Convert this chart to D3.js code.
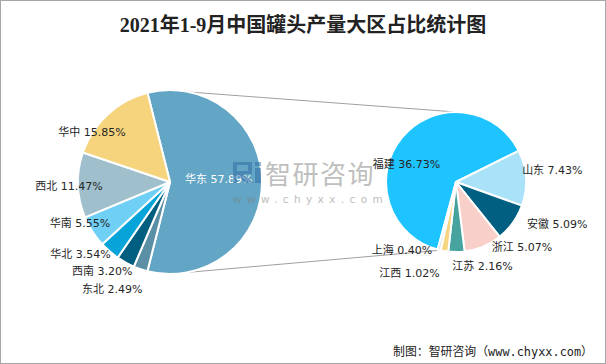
<!DOCTYPE html>
<html><head><meta charset="utf-8">
<script src="https://cdn.jsdelivr.net/npm/d3@7"></script>
<style>
html,body{margin:0;padding:0;background:#fff;}
svg{display:block;}
</style></head>
<body>
<svg id="chart" width="606" height="364"></svg>
<script>
// ---- data ----
const title = "2021年1-9月中国罐头产量大区占比统计图";
const source = "制图：智研咨询（www.chyxx.com）";
const regions = ["华东","东北","西南","华北","华南","西北","华中"];
const regionValues = [57.89, 2.49, 3.20, 3.54, 5.55, 11.47, 15.85];
const provinces = ["福建","山东","安徽","浙江","江苏","江西","上海"];
const provinceValues = [36.73, 7.43, 5.09, 5.07, 2.16, 1.02, 0.40];

// ---- styles / layout ----
const regionColors = ["#62a5c4","#5b8fa6","#005f80","#06a4d9","#6fcff5","#9fbfcc","#f6d47d"];
const provinceColors = ["#1ec4ff","#a9e2f9","#015f82","#f9d0c9","#46a39d","#f5d57f","#d2dde3"];
const leftPie = {cx:170, cy:182, r:92, start:-14.2};
const rightPie = {cx:456, cy:182, r:70, start:-164.8};
// label placement: [radius factor, dx, dy]
const leftLabelPos = [[0.53,0,-3],[1.25,-21,-2],[1.25,-12,-12],[1.25,-14,-15],[1.25,7,-21],[1.25,14,0],[1.25,0,34]];
const rightLabelPos = [[0.75,-9,15],[1.25,9,-7],[1.25,30,-9],[1.25,32,-16],[1.25,26,-3.5],[1.25,-32,5],[1.25,-33,-17]];

const svg = d3.select("#chart");
const W = 606, H = 364;
svg.append("rect").attr("x",0.5).attr("y",0.5).attr("width",W-1).attr("height",H-1)
  .attr("fill","#fff").attr("stroke","#a6a6a6").attr("stroke-width",1);

svg.append("text").attr("x",W/2).attr("y",32).attr("text-anchor","middle")
  .attr("font-family","'Liberation Serif','Noto Sans CJK SC',serif")
  .attr("font-size",20).attr("font-weight","bold").attr("fill","#222")
  .text(title);

const rad = d => d*Math.PI/180;

function drawPie(values, colors, cfg) {
  const pie = d3.pie().sort(null).value(d=>d)
    .startAngle(rad(cfg.start)).endAngle(rad(cfg.start)+2*Math.PI);
  const arcs = pie(values);
  const arc = d3.arc().innerRadius(0).outerRadius(cfg.r);
  const g = svg.append("g").attr("transform",`translate(${cfg.cx},${cfg.cy})`);
  g.selectAll("path").data(arcs).join("path")
    .attr("d",arc).attr("fill",(d,i)=>colors[i])
    .attr("stroke","#fff").attr("stroke-width",2).attr("stroke-linejoin","round");
  return {g, arcs};
}

function drawLabels(p, names, values, cfg, labelPos, colors) {
  const pos = (d,i) => {
    const lp = labelPos[i], R = cfg.r*lp[0];
    const c = d3.arc().innerRadius(R).outerRadius(R).centroid(d);
    return [c[0]+lp[1], c[1]+lp[2]];
  };
  p.g.selectAll("text.lbl").data(p.arcs).join("text").attr("class","lbl")
    .attr("x",(d,i)=>pos(d,i)[0])
    .attr("y",(d,i)=>pos(d,i)[1])
    .attr("dy","0.36em")
    .attr("text-anchor","middle")
    .attr("font-family","Tahoma,'DejaVu Sans','Noto Sans CJK SC',sans-serif")
    .attr("font-size",11)
    .attr("fill",(d,i)=>colors[i])
    .text((d,i)=>`${names[i]} ${values[i].toFixed(2)}%`);
}

// connector lines
const conn = svg.append("g");
const pt = (cfg, deg, r) => [cfg.cx + r*Math.sin(rad(deg)), cfg.cy - r*Math.cos(rad(deg))];
const lp = leftPie, rp = rightPie;
[[pt(lp,12,lp.r), pt(rp,0,rp.r)], [pt(lp,169.5,lp.r), pt(rp,193,rp.r)]].forEach(([a,b])=>{
  conn.append("line").attr("x1",a[0]).attr("y1",a[1]).attr("x2",b[0]).attr("y2",b[1])
    .attr("stroke","#a0a0a0").attr("stroke-width",1);
});

const L = drawPie(regionValues, regionColors, leftPie);
const R = drawPie(provinceValues, provinceColors, rightPie);

// watermark (on top, semi-transparent)
const wm = svg.append("g").attr("opacity",0.5);
wm.append("path").attr("d","M233,162 h19 v12 h-9 l11,9 h-8 l-9,-7.5 v7.5 h-4 z M237,165 v6 h11 v-6 z M255,162 h6 v4 h-6 z M255,168 h6 v15 h-6 z")
  .attr("fill-rule","evenodd").attr("fill","#2f6aa5");
wm.append("text").attr("x",265).attr("y",184).attr("font-family","'Noto Sans CJK SC',sans-serif")
  .attr("font-size",26).attr("fill","#808080").attr("letter-spacing",1.5).text("智研咨询");
wm.append("text").attr("x",233).attr("y",203).attr("font-family","'DejaVu Sans',sans-serif")
  .attr("font-size",10.5).attr("fill","#808080").attr("letter-spacing",5.4).text("www.chyxx.com");

drawLabels(L, regions, regionValues, leftPie, leftLabelPos, regions.map((d,i)=>i===0?"#ffffff":"#262626"));
drawLabels(R, provinces, provinceValues, rightPie, rightLabelPos, provinces.map(()=> "#262626"));

svg.append("text").attr("x",593).attr("y",356).attr("text-anchor","end")
  .attr("font-family","'DejaVu Sans Mono','Noto Sans CJK SC',monospace")
  .attr("font-size",12).attr("fill","#222")
  .attr("textLength",200).attr("lengthAdjust","spacingAndGlyphs")
  .text(source);
</script>
</body></html>
